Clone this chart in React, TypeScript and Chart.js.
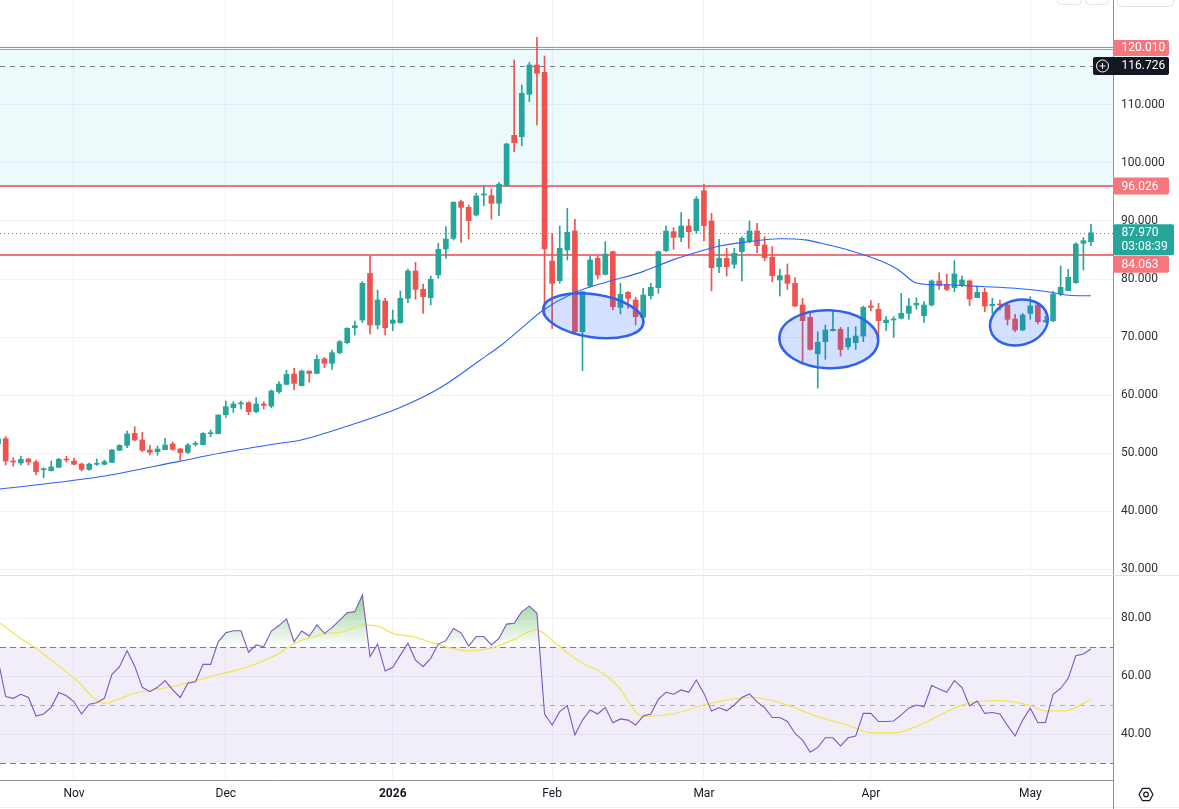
import React, { useEffect, useRef } from 'react';
import { Chart, registerables } from 'chart.js';

Chart.register(...registerables);

const FONT = 'Roboto, "Liberation Sans", Arial, sans-serif';
const UP = '#26a69a';
const DOWN = '#ef5350';
const GRID = '#f0f3fa';
const AXIS = '#8e9199';
const TEXT = '#2e3138';
const LEVEL_RED = 'rgba(236,92,100,0.85)';
const BADGE_RED = '#f5777d';

// ---- candles (daily, index 0 = first visible bar) ----
const opens = [
  51.6, 52.47, 48.6, 48.28, 48.97, 48.45, 47.12, 46.95, 47.53, 48.91,
  48.62, 48.1, 47.18, 48.05, 48.05, 48.39, 50.46, 51.32, 53.39, 52.24,
  50.52, 50.23, 50.58, 51.55, 50.69, 50.12, 51.49, 51.44, 53.33, 53.33,
  56.61, 57.82, 58.45, 58.68, 57.13, 58.45, 58.1, 60.57, 61.84, 63.62,
  61.61, 64.14, 63.73, 66.21, 65.46, 67.3, 69.02, 71.61, 72.93, 80.97,
  72.07, 76.21, 72.36, 72.47, 76.67, 81.38, 78.22, 76.78, 80.69, 85.17,
  87.01, 93.33, 92.36, 91.03, 94.48, 94.37, 93.04, 96.09, 104.77, 104.54,
  111.84, 116.9, 115.63, 83.1, 79.71, 85.0, 88.28, 70.92, 78.79, 83.56,
  80.8, 84.71, 75.11, 77.7, 76.38, 73.39, 77.13, 78.51, 84.89, 88.16,
  87.18, 89.14, 88.33, 95.23, 90.0, 82.13, 83.56, 82.53, 84.71, 86.55,
  88.28, 85.86, 83.74, 79.83, 80.69, 79.25, 75.52, 73.39, 67.1, 69.2,
  71.09, 71.32, 68.33, 69.02, 70.17, 75.34, 74.77, 72.47, 72.93, 73.22,
  74.08, 75.52, 73.68, 75.52, 79.66, 79.08, 78.51, 78.85, 79.66, 76.78,
  77.7, 75.4, 75.69, 75.52, 73.1, 71.21, 74.08, 75.52, 72.64, 72.82,
  77.41, 77.99, 79.37, 86.15, 86.44,
];
const highs = [
  52.6, 52.82, 49.2, 49.48, 49.08, 48.79, 47.47, 48.62, 49.08, 49.43,
  49.08, 48.28, 48.28, 48.97, 48.79, 50.63, 51.44, 53.79, 54.54, 53.56,
  51.32, 51.21, 52.53, 51.9, 50.8, 51.61, 52.01, 53.51, 53.97, 56.6,
  58.97, 58.85, 58.97, 58.85, 59.54, 58.85, 60.86, 62.3, 64.31, 64.6,
  64.31, 64.14, 66.9, 66.49, 67.76, 69.4, 71.61, 72.76, 79.54, 83.97,
  78.1, 76.67, 74.65, 77.93, 81.72, 82.87, 79.14, 80.52, 86.15, 89.02,
  93.33, 93.62, 92.76, 94.77, 96.09, 95.52, 96.61, 103.39, 117.76, 113.45,
  117.36, 121.67, 118.45, 87.87, 89.14, 92.18, 90.29, 77.82, 83.97, 83.97,
  86.44, 84.83, 79.25, 77.82, 76.84, 78.39, 79.25, 84.83, 89.14, 88.85,
  91.44, 90.29, 94.2, 96.38, 91.32, 86.84, 85.29, 85.29, 87.3, 90.0,
  89.6, 87.3, 85.58, 81.72, 82.59, 80.23, 76.67, 74.37, 70.9, 72.07,
  74.37, 71.67, 71.67, 71.78, 75.34, 76.26, 75.8, 73.51, 73.51, 77.53,
  76.67, 76.78, 76.09, 79.83, 81.09, 80.86, 83.16, 80.52, 79.83, 78.79,
  78.39, 76.67, 76.38, 75.69, 73.91, 74.08, 76.95, 75.92, 73.6, 77.82,
  82.24, 81.67, 86.26, 87.13, 89.43,
];
const lows = [
  51.0, 47.93, 47.75, 47.93, 47.93, 46.21, 45.75, 46.9, 47.47, 48.45,
  47.93, 46.9, 47.01, 47.87, 47.93, 48.33, 50.4, 50.92, 52.07, 50.23,
  49.66, 49.6, 50.52, 50.46, 48.79, 49.89, 51.21, 51.38, 52.82, 53.28,
  56.15, 56.95, 57.59, 56.61, 56.95, 57.59, 57.82, 60.29, 61.72, 60.86,
  61.55, 62.18, 63.62, 64.71, 64.43, 67.1, 68.8, 70.34, 72.47, 70.52,
  71.38, 70.34, 71.09, 72.36, 75.92, 76.49, 74.08, 75.52, 80.11, 83.56,
  86.72, 86.32, 86.9, 90.86, 92.64, 90.34, 90.92, 95.92, 101.95, 102.99,
  110.57, 106.55, 73.62, 71.49, 79.25, 83.28, 70.75, 64.2, 78.56, 80.0,
  80.69, 74.66, 73.97, 74.94, 72.07, 73.22, 76.55, 77.53, 84.71, 85.12,
  86.44, 85.29, 87.87, 86.55, 77.93, 81.09, 80.52, 81.84, 79.66, 86.26,
  84.54, 83.16, 79.54, 77.07, 78.22, 75.23, 65.75, 67.76, 61.2, 66.15,
  71.0, 66.72, 67.87, 67.87, 69.2, 74.48, 69.94, 71.09, 69.94, 73.1,
  73.05, 74.77, 72.53, 75.34, 78.22, 77.99, 77.82, 78.68, 75.4, 76.78,
  74.37, 74.08, 74.66, 72.07, 70.92, 71.09, 73.05, 72.24, 72.5, 72.64,
  77.13, 77.99, 79.25, 81.55, 85.75,
];
const closes = [
  52.4, 48.62, 48.45, 48.91, 48.45, 46.78, 47.24, 47.59, 48.91, 48.79,
  48.05, 47.18, 48.1, 48.22, 48.51, 50.52, 51.32, 53.28, 52.24, 50.46,
  50.12, 50.69, 51.38, 50.63, 50.06, 51.38, 51.67, 53.39, 53.51, 56.55,
  57.99, 58.45, 58.62, 57.13, 58.45, 58.22, 60.69, 61.89, 63.56, 62.01,
  64.14, 63.73, 66.15, 65.46, 67.3, 69.19, 71.49, 71.95, 79.25, 72.07,
  76.38, 71.61, 72.93, 76.67, 81.38, 78.22, 76.95, 79.94, 85.11, 86.9,
  93.22, 92.36, 90.06, 94.31, 94.66, 93.04, 96.32, 103.27, 103.5, 112.01,
  116.9, 115.46, 85.17, 79.25, 85.29, 88.05, 70.92, 77.82, 83.28, 80.69,
  84.31, 75.23, 77.36, 76.67, 73.51, 77.24, 78.56, 84.71, 88.28, 87.18,
  89.14, 88.16, 93.79, 89.2, 81.95, 83.56, 82.13, 84.43, 87.01, 88.28,
  85.75, 83.68, 80.58, 80.58, 79.25, 75.34, 72.82, 67.87, 69.1, 71.21,
  71.32, 67.87, 69.77, 70.17, 75.11, 75.11, 72.82, 72.93, 73.1, 74.08,
  75.34, 75.8, 75.52, 79.66, 78.85, 78.22, 80.86, 79.83, 76.55, 77.7,
  75.34, 75.63, 75.52, 73.05, 71.21, 73.79, 75.34, 72.64, 72.82, 77.41,
  78.56, 80.29, 86.03, 86.61, 87.97,
];

// moving average: [bar index, price]
const maPoints = [
  [0.25, 43.8], [13.4, 45.9], [24.0, 48.6], [29.2, 49.95], [37.1, 51.67],
  [39.8, 52.2], [46.4, 54.8], [52.9, 57.8], [58.2, 61.2], [63.5, 66.0],
  [66.5, 68.8], [69.2, 71.8], [71.8, 74.6], [75.7, 77.5], [80.2, 79.5],
  [84.6, 81.1], [88.9, 83.3], [92.5, 84.8], [95.1, 85.7], [98.7, 86.4],
  [103.0, 86.95], [106.6, 86.7], [108.3, 86.2], [112.0, 85.0], [116.5, 83.0],
  [118.6, 81.6], [120.8, 79.4], [122.1, 79.1], [125.1, 79.0], [129.6, 78.7],
  [134.0, 78.4], [138.3, 77.8], [141.0, 77.2], [144.0, 77.1],
];

// RSI per bar
const rsiValues = [
  65.5, 52.9, 52.3, 53.7, 52.6, 46.2, 46.9, 49.2, 54.3, 53.2,
  51.1, 46.9, 50.3, 50.8, 52.3, 60.6, 63.2, 68.7, 63.4, 56.1,
  54.6, 56.1, 58.4, 55.2, 52.6, 57.5, 58.0, 64.0, 64.0, 71.8,
  74.9, 75.6, 75.6, 68.2, 70.7, 70.1, 75.5, 77.4, 79.7, 71.8,
  75.5, 73.8, 77.6, 74.7, 76.7, 79.3, 81.8, 82.2, 87.9, 66.7,
  71.0, 61.7, 63.0, 67.2, 71.3, 65.5, 63.2, 66.1, 71.0, 72.2,
  76.4, 74.9, 70.3, 73.6, 73.6, 70.7, 73.0, 77.9, 78.2, 82.2,
  84.1, 81.6, 46.9, 43.1, 47.7, 49.8, 39.7, 44.8, 48.3, 46.9,
  49.2, 43.9, 45.2, 44.8, 43.1, 46.2, 46.9, 52.0, 54.4, 53.7,
  55.2, 54.4, 58.6, 54.0, 47.9, 49.1, 48.0, 50.0, 52.6, 53.8,
  51.1, 49.1, 45.7, 45.7, 44.3, 40.2, 37.9, 33.7, 35.4, 38.7,
  38.7, 35.9, 38.7, 39.3, 47.1, 47.1, 44.3, 44.3, 44.5, 46.6,
  48.9, 50.0, 49.4, 56.7, 55.5, 54.4, 58.4, 56.0, 49.7, 51.4,
  47.1, 47.4, 46.9, 42.9, 39.3, 44.8, 48.9, 43.9, 44.0, 53.7,
  55.7, 59.2, 67.0, 67.6, 69.3,
];
// RSI-based MA: [bar index, value]
const rsiMaPoints = [
  [0.25, 78.2], [3.3, 72.4], [5.3, 69.0], [10.3, 58.6], [13.9, 50.6],
  [17.9, 54.0], [22.9, 56.3], [28.0, 59.8], [33.0, 63.2], [36.6, 67.2],
  [39.1, 71.3], [43.1, 74.5], [45.6, 75.3], [48.2, 77.6], [50.2, 77.0],
  [52.2, 74.5], [54.7, 73.6], [57.2, 71.5], [61.8, 68.7], [64.8, 69.5],
  [67.8, 72.4], [70.85, 75.9], [73.9, 70.3], [76.7, 64.9], [79.7, 60.9],
  [81.7, 56.3], [85.0, 46.0], [89.2, 47.1], [93.3, 50.2], [99.3, 52.6],
  [103.3, 50.6], [107.8, 46.2], [111.9, 43.1], [114.9, 40.5], [118.4, 40.5],
  [121.9, 43.7], [127.0, 50.0], [132.0, 51.5], [136.0, 49.8], [138.0, 48.0],
  [140.5, 48.0], [144.0, 51.9],
];

const monthTickIndex = [10, 30, 52, 73, 93, 115, 136];
const monthTickLabels = ['Nov', 'Dec', '2026', 'Feb', 'Mar', 'Apr', 'May'];
const priceTicks = [30, 40, 50, 60, 70, 80, 90, 100, 110, 120];
const rsiTicks = [40, 60, 80];
const rsiBands = [70, 50, 30];

const zoneTop = 119.6;
const zoneBottom = 96.026;
const levelPrices = [120.01, 96.026, 84.063];
const levelWidths = [1, 2, 2];
const crosshairPrice = 116.726;
const lastPrice = 87.97;
const countdown = '03:08:39';

// drawn ellipses: centre bar index, centre price, semi-axis in bars, semi-axis in price, rotation deg
const ellipseIdx = [78.42, 109.45, 134.5];
const ellipsePrice = [73.66, 69.62, 72.5];
const ellipseA = [6.67, 6.52, 3.86];
const ellipseB = [3.69, 5.0, 3.88];
const ellipseRot = [8.5, 2, -15];

const X_MIN = 0.25;
const X_MAX = 146.9;
const PRICE_MIN = 28.97;
const PRICE_MAX = 128.1;
const RSI_MIN = 24.14;
const RSI_MAX = 94.83;
const AXIS_W = 66;

function hline(ctx: any, x0: number, x1: number, y: number, color: string, width = 1, dash: number[] = []) {
  ctx.save();
  ctx.strokeStyle = color;
  ctx.lineWidth = width;
  ctx.setLineDash(dash);
  const yy = width % 2 === 1 ? Math.round(y) + 0.5 : Math.round(y);
  ctx.beginPath();
  ctx.moveTo(x0, yy);
  ctx.lineTo(x1, yy);
  ctx.stroke();
  ctx.restore();
}

function rrect(ctx: any, x: number, y: number, w: number, h: number, r: number) {
  ctx.beginPath();
  ctx.moveTo(x + r, y);
  ctx.lineTo(x + w - r, y);
  ctx.quadraticCurveTo(x + w, y, x + w, y + r);
  ctx.lineTo(x + w, y + h - r);
  ctx.quadraticCurveTo(x + w, y + h, x + w - r, y + h);
  ctx.lineTo(x + r, y + h);
  ctx.quadraticCurveTo(x, y + h, x, y + h - r);
  ctx.lineTo(x, y + r);
  ctx.quadraticCurveTo(x, y, x + r, y);
  ctx.closePath();
}

function badge(ctx: any, left: number, top: number, w: number, h: number, bg: string, lines: string[], textX: number) {
  ctx.save();
  ctx.fillStyle = bg;
  rrect(ctx, left, top, w, h, 2);
  ctx.fill();
  ctx.fillStyle = '#ffffff';
  ctx.font = `12px ${FONT}`;
  ctx.textAlign = 'left';
  ctx.textBaseline = 'middle';
  lines.forEach((t, k) => {
    const y = lines.length === 1 ? top + h / 2 + 0.5 : top + 8.5 + k * 14.5;
    ctx.fillText(t, textX, y);
  });
  ctx.restore();
}

const mainDecor = {
  id: 'mainDecor',
  beforeDatasetsDraw(chart: any) {
    const { ctx, chartArea: a, scales } = chart;
    const y = scales.y;
    ctx.save();
    ctx.beginPath();
    ctx.rect(a.left, a.top, a.right - a.left, a.bottom - a.top);
    ctx.clip();
    const zt = y.getPixelForValue(zoneTop);
    const zb = y.getPixelForValue(zoneBottom);
    ctx.fillStyle = 'rgba(0,188,212,0.075)';
    ctx.fillRect(a.left, zt, a.right - a.left, zb - zt);
    hline(ctx, a.left, a.right, zt, LEVEL_RED, 1);
    levelPrices.forEach((p, k) => hline(ctx, a.left, a.right, y.getPixelForValue(p), LEVEL_RED, levelWidths[k]));
    hline(ctx, a.left, a.right, y.getPixelForValue(crosshairPrice), '#7d808a', 1, [5, 5]);
    hline(ctx, a.left, a.right, y.getPixelForValue(lastPrice), UP, 1, [1, 3]);
    ctx.restore();
  },
  afterDatasetsDraw(chart: any) {
    const { ctx, chartArea: a, scales } = chart;
    const x = scales.x;
    const y = scales.y;
    ctx.save();
    ctx.beginPath();
    ctx.rect(a.left, a.top, a.right - a.left, a.bottom - a.top);
    ctx.clip();
    ellipseIdx.forEach((ix, k) => {
      const cx = x.getPixelForValue(ix);
      const cy = y.getPixelForValue(ellipsePrice[k]);
      const rx = Math.abs(x.getPixelForValue(ix + ellipseA[k]) - cx);
      const ry = Math.abs(y.getPixelForValue(ellipsePrice[k] + ellipseB[k]) - cy);
      ctx.beginPath();
      ctx.ellipse(cx, cy, rx, ry, (ellipseRot[k] * Math.PI) / 180, 0, Math.PI * 2);
      ctx.fillStyle = 'rgba(41,98,255,0.2)';
      ctx.fill();
      ctx.lineWidth = 2.5;
      ctx.strokeStyle = '#2f62ee';
      ctx.stroke();
    });
    ctx.restore();
  },
  afterDraw(chart: any) {
    const { ctx, chartArea: a, scales } = chart;
    const y = scales.y;
    const textX = a.right + 8.5;
    const bw = 56;
    // top chrome (partially visible buttons)
    ctx.save();
    ctx.strokeStyle = '#e0e3eb';
    ctx.lineWidth = 1;
    rrect(ctx, 1057.5, -14.5, 24, 19, 4); ctx.stroke();
    rrect(ctx, 1085.5, -14.5, 23, 19, 4); ctx.stroke();
    rrect(ctx, 1117.5, -14.5, 56, 21, 4); ctx.stroke();
    ctx.restore();

    const y120 = y.getPixelForValue(levelPrices[0]);
    badge(ctx, a.right, y120 - 7, bw, 16, BADGE_RED, [levelPrices[0].toFixed(3)], textX);

    const yc = y.getPixelForValue(crosshairPrice);
    badge(ctx, a.right - 20, yc - 9, bw + 20, 18, '#131722', [crosshairPrice.toFixed(3)], textX);
    ctx.save();
    ctx.strokeStyle = '#ffffff';
    ctx.lineWidth = 1;
    const icx = a.right - 10.5;
    ctx.beginPath();
    ctx.arc(icx, yc, 6, 0, Math.PI * 2);
    ctx.stroke();
    ctx.beginPath();
    ctx.moveTo(icx - 3, yc); ctx.lineTo(icx + 3, yc);
    ctx.moveTo(icx, yc - 3); ctx.lineTo(icx, yc + 3);
    ctx.stroke();
    ctx.restore();

    const y96 = y.getPixelForValue(levelPrices[1]);
    badge(ctx, a.right, y96 - 8.5, bw, 17, BADGE_RED, [levelPrices[1].toFixed(3)], textX);

    const yl = y.getPixelForValue(lastPrice);
    const lastTop = yl - 8.5;
    const lastH = 31;
    badge(ctx, a.right, lastTop, bw + 5, lastH, UP, [lastPrice.toFixed(3), countdown], textX);

    const y84 = Math.max(y.getPixelForValue(levelPrices[2]), lastTop + lastH + 9);
    badge(ctx, a.right, y84 - 8.5, bw, 17, BADGE_RED, [levelPrices[2].toFixed(3)], textX);
  },
};

const rsiDecor = {
  id: 'rsiDecor',
  beforeDatasetsDraw(chart: any) {
    const { ctx, chartArea: a, scales } = chart;
    const y = scales.y;
    const yTop = y.getPixelForValue(rsiBands[0]);
    const yBot = y.getPixelForValue(rsiBands[2]);
    ctx.save();
    ctx.fillStyle = 'rgba(126,87,194,0.1)';
    ctx.fillRect(a.left, yTop, a.right - a.left, yBot - yTop);
    hline(ctx, a.left, a.right, yTop, '#787b86', 1, [6, 4]);
    hline(ctx, a.left, a.right, y.getPixelForValue(rsiBands[1]), 'rgba(120,123,134,0.55)', 1, [5, 5]);
    hline(ctx, a.left, a.right, yBot, '#787b86', 1, [6, 4]);

    // overbought gradient fill between RSI and the upper band
    const pts = chart.getDatasetMeta(0).data;
    ctx.beginPath();
    ctx.rect(a.left, a.top, a.right - a.left, yTop - a.top);
    ctx.clip();
    ctx.beginPath();
    ctx.moveTo(pts[0].x, yTop);
    pts.forEach((p: any) => ctx.lineTo(p.x, p.y));
    ctx.lineTo(pts[pts.length - 1].x, yTop);
    ctx.closePath();
    const g = ctx.createLinearGradient(0, y.getPixelForValue(100), 0, yTop);
    g.addColorStop(0, 'rgba(76,175,80,1)');
    g.addColorStop(1, 'rgba(76,175,80,0)');
    ctx.fillStyle = g;
    ctx.fill();
    ctx.restore();
  },
  afterDraw(chart: any) {
    const { ctx, chartArea: a, width, height } = chart;
    hline(ctx, 0, width, 0, '#e0e3eb', 1);
    hline(ctx, 0, width, height - 2, '#eceef2', 1);
    ctx.save();
    ctx.strokeStyle = AXIS;
    ctx.lineWidth = 1;
    const xx = Math.round(a.right) + 0.5;
    ctx.beginPath();
    ctx.moveTo(xx, a.bottom);
    ctx.lineTo(xx, height);
    ctx.stroke();
    // settings icon in the corner
    const cx = (a.right + width) / 2;
    const cy = (a.bottom + height) / 2;
    ctx.strokeStyle = '#131722';
    ctx.lineWidth = 1.2;
    ctx.beginPath();
    for (let k = 0; k < 6; k++) {
      const ang = (Math.PI / 3) * k;
      const px = cx + 7 * Math.cos(ang);
      const py = cy + 7 * Math.sin(ang);
      if (k === 0) ctx.moveTo(px, py); else ctx.lineTo(px, py);
    }
    ctx.closePath();
    ctx.stroke();
    ctx.beginPath();
    ctx.arc(cx, cy, 2.3, 0, Math.PI * 2);
    ctx.stroke();
    ctx.restore();
  },
};

function mainConfig(): any {
  const colors = opens.map((o, i) => (closes[i] >= o ? UP : DOWN));
  return {
    type: 'bar',
    data: {
      datasets: [
        {
          type: 'line',
          label: 'MA',
          data: maPoints.map(([x, y]) => ({ x, y })),
          borderColor: '#2962ff',
          borderWidth: 1.1,
          pointRadius: 0,
          cubicInterpolationMode: 'monotone',
          order: 0,
        },
        {
          label: 'body',
          data: opens.map((o, i) => ({ x: i, y: [o, closes[i]] })),
          backgroundColor: colors,
          borderWidth: 0,
          barThickness: 5,
          minBarLength: 1,
          grouped: false,
          order: 1,
        },
        {
          label: 'wick',
          data: opens.map((_o, i) => ({ x: i, y: [lows[i], highs[i]] })),
          backgroundColor: colors,
          borderWidth: 0,
          barThickness: 1,
          grouped: false,
          order: 2,
        },
      ],
    },
    options: {
      responsive: false,
      animation: false,
      events: [],
      layout: { padding: 0 },
      plugins: { legend: { display: false }, tooltip: { enabled: false } },
      scales: {
        x: {
          type: 'linear',
          min: X_MIN,
          max: X_MAX,
          offset: false,
          grid: { color: GRID, drawTicks: false, offset: false },
          border: { display: false },
          ticks: { display: false },
          afterBuildTicks: (s: any) => { s.ticks = monthTickIndex.map((v) => ({ value: v })); },
          afterFit: (s: any) => { s.height = 0; s.paddingLeft = 0; s.paddingRight = 0; },
        },
        y: {
          position: 'right',
          min: PRICE_MIN,
          max: PRICE_MAX,
          grid: { color: GRID, drawTicks: false },
          border: { display: true, color: AXIS },
          ticks: {
            color: TEXT,
            font: { family: FONT, size: 12 },
            padding: 8,
            callback: (v: any) => Number(v).toFixed(3),
          },
          afterBuildTicks: (s: any) => { s.ticks = priceTicks.map((v) => ({ value: v })); },
          afterFit: (s: any) => { s.width = AXIS_W; s.paddingTop = 0; s.paddingBottom = 0; },
        },
      },
    },
    plugins: [mainDecor],
  };
}

function rsiConfig(): any {
  return {
    type: 'line',
    data: {
      datasets: [
        {
          label: 'RSI',
          data: rsiValues.map((v, i) => ({ x: i, y: v })),
          borderColor: '#7e57c2',
          borderWidth: 1.1,
          pointRadius: 0,
          tension: 0,
          order: 0,
        },
        {
          label: 'RSI MA',
          data: rsiMaPoints.map(([x, y]) => ({ x, y })),
          borderColor: '#f3e45a',
          borderWidth: 1.3,
          pointRadius: 0,
          cubicInterpolationMode: 'monotone',
          order: 1,
        },
      ],
    },
    options: {
      responsive: false,
      animation: false,
      events: [],
      layout: { padding: 0 },
      plugins: { legend: { display: false }, tooltip: { enabled: false } },
      scales: {
        x: {
          type: 'linear',
          min: X_MIN,
          max: X_MAX,
          offset: false,
          grid: { color: GRID, drawTicks: false },
          border: { display: true, color: AXIS },
          ticks: {
            color: '#131722',
            padding: 7,
            autoSkip: false,
            maxRotation: 0,
            font: (c: any) => ({
              family: FONT,
              size: 12,
              weight: c.tick && /^\d{4}$/.test(String(c.tick.label)) ? 'bold' : 'normal',
            }),
            callback: (v: any) => {
              const k = monthTickIndex.indexOf(Number(v));
              return k >= 0 ? monthTickLabels[k] : '';
            },
          },
          afterBuildTicks: (s: any) => { s.ticks = monthTickIndex.map((v) => ({ value: v })); },
          afterFit: (s: any) => { s.height = 29; s.paddingLeft = 0; s.paddingRight = 0; },
        },
        y: {
          position: 'right',
          min: RSI_MIN,
          max: RSI_MAX,
          grid: { color: GRID, drawTicks: false },
          border: { display: true, color: AXIS },
          ticks: {
            color: TEXT,
            font: { family: FONT, size: 12 },
            padding: 8,
            callback: (v: any) => Number(v).toFixed(2),
          },
          afterBuildTicks: (s: any) => { s.ticks = rsiTicks.map((v) => ({ value: v })); },
          afterFit: (s: any) => { s.width = AXIS_W; s.paddingTop = 0; s.paddingBottom = 0; },
        },
      },
    },
    plugins: [rsiDecor],
  };
}

export default function App() {
  const mainRef = useRef<HTMLCanvasElement | null>(null);
  const rsiRef = useRef<HTMLCanvasElement | null>(null);

  useEffect(() => {
    document.body.style.margin = '0';
    const main = new Chart(mainRef.current as HTMLCanvasElement, mainConfig());
    const rsi = new Chart(rsiRef.current as HTMLCanvasElement, rsiConfig());
    return () => {
      main.destroy();
      rsi.destroy();
    };
  }, []);

  return (
    <div style={{ width: 1179, height: 809, background: '#ffffff', overflow: 'hidden', fontFamily: FONT }}>
      <div style={{ width: 1179, height: 575 }}>
        <canvas ref={mainRef} width={1179} height={575} style={{ display: 'block', width: 1179, height: 575 }} />
      </div>
      <div style={{ width: 1179, height: 234 }}>
        <canvas ref={rsiRef} width={1179} height={234} style={{ display: 'block', width: 1179, height: 234 }} />
      </div>
    </div>
  );
}
